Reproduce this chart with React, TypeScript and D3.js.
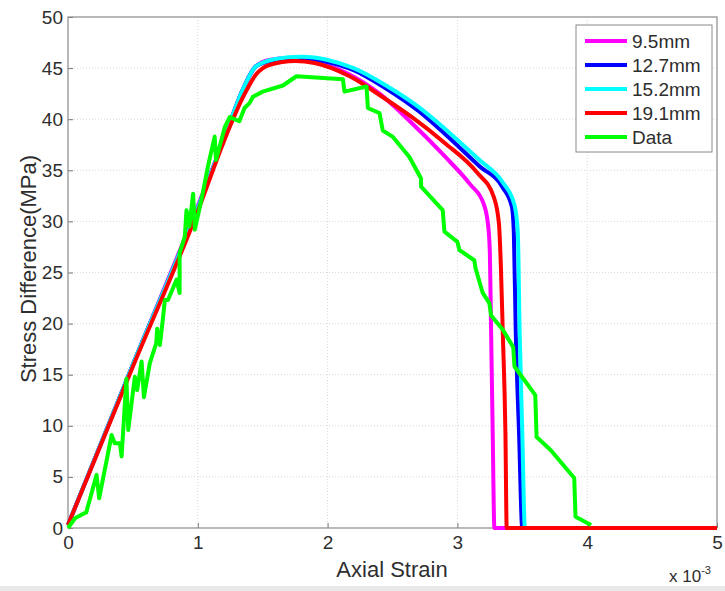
import React, { useEffect, useRef } from 'react';
import * as d3 from 'd3';

// strain in units of 1e-3, stress in MPa
const mm95: [number, number][] = [
  [0, 0.3], [0.5, 16], [1, 31.5], [1.2, 38], [1.35, 43], [1.45, 45.2], [1.55, 45.8], [1.7, 46.0],
  [1.9, 45.6], [2.15, 44.5], [2.4, 42.5], [2.65, 39.6], [2.9, 36.4], [3.1, 33.6], [3.2, 31.8],
  [3.235, 29.8], [3.25, 27], [3.26, 19], [3.272, 9.3], [3.285, 0], [5, 0],
];
const mm127: [number, number][] = [
  [0, 0.3], [0.5, 16], [1, 31.3], [1.2, 38], [1.35, 43], [1.45, 45.2], [1.6, 45.8], [1.8, 46.0],
  [2, 45.6], [2.2, 44.8], [2.45, 43], [2.7, 40.8], [2.9, 38.6], [3.17, 35.4], [3.35, 33.3],
  [3.42, 31.4], [3.435, 28.8], [3.45, 19], [3.475, 9.3], [3.5, 0], [5, 0],
];
const mm152: [number, number][] = [
  [0, 0.3], [0.5, 16], [1, 31.3], [1.2, 38], [1.35, 43], [1.45, 45.2], [1.6, 45.9], [1.8, 46.1],
  [2, 45.8], [2.2, 45], [2.45, 43.3], [2.7, 41.2], [2.9, 39.1], [3.17, 36], [3.35, 33.8],
  [3.44, 31.6], [3.465, 29], [3.48, 19], [3.5, 9.3], [3.52, 0], [5, 0],
];
const mm191: [number, number][] = [
  [0, 0.3], [0.5, 15.8], [1, 31], [1.2, 37.8], [1.35, 42.2], [1.45, 44.4], [1.55, 45.3], [1.75, 45.7],
  [1.9, 45.5], [2.17, 44.2], [2.42, 42.2], [2.65, 40.2], [2.9, 37.7], [3.15, 34.8], [3.28, 32.4],
  [3.32, 29.8], [3.335, 25.6], [3.35, 19], [3.37, 9.3], [3.38, 0], [5, 0],
];
const measured: [number, number][] = [
  [0, 0], [0.054, 0.95], [0.118, 1.4], [0.14, 1.5], [0.22, 5.2], [0.24, 2.9], [0.336, 9.1], [0.36, 8.3],
  [0.4, 8.3], [0.413, 7.0], [0.45, 14.6], [0.464, 9.6], [0.515, 14.8], [0.533, 13.5], [0.567, 16.3],
  [0.585, 12.8], [0.63, 16.1], [0.68, 18.1], [0.687, 19.5], [0.708, 17.9], [0.733, 20.7], [0.746, 22.3],
  [0.77, 22.3], [0.836, 24.3], [0.86, 23.0], [0.86, 26.9], [0.9, 28.5], [0.913, 31.1], [0.935, 29.5],
  [0.964, 32.7], [0.977, 29.2], [1.028, 32.1], [1.08, 35.5], [1.13, 38.3], [1.14, 36.0], [1.21, 39.3],
  [1.246, 40.2], [1.32, 39.8], [1.36, 41.1], [1.4, 41.6], [1.425, 42.2], [1.5, 42.7], [1.656, 43.3],
  [1.76, 44.2], [2.118, 43.9], [2.13, 42.7], [2.3, 43.2], [2.31, 41.1], [2.4, 40.6], [2.425, 38.9],
  [2.5, 38.3], [2.63, 36.3], [2.72, 34.2], [2.72, 33.4], [2.887, 31.1], [2.9, 29.0], [3.0, 28.0],
  [3.015, 27.2], [3.13, 26.2], [3.14, 25.4], [3.195, 23.0], [3.246, 22.0], [3.26, 20.8], [3.35, 19.4],
  [3.43, 17.7], [3.44, 15.8], [3.6, 13.0], [3.61, 8.9], [3.72, 7.6], [3.9, 4.9], [3.91, 1.1], [4.03, 0.3],
];

const names = ['9.5mm', '12.7mm', '15.2mm', '19.1mm', 'Data'];
const colors = ['#ff00ff', '#0000ff', '#00ffff', '#ff0000', '#00ff00'];
const series = [mm95, mm127, mm152, mm191, measured];
const xTicks = [0, 1, 2, 3, 4, 5];
const yTicks = [0, 5, 10, 15, 20, 25, 30, 35, 40, 45, 50];

export default function App() {
  const ref = useRef<SVGSVGElement>(null);

  useEffect(() => {
    const width = 725;
    const height = 591;
    const left = 68, right = 717, top = 17, bottom = 528;
    const font = '"Liberation Sans", Arial, sans-serif';
    const ink = '#2e2e2e';

    const svg = d3.select(ref.current);
    svg.selectAll('*').remove();

    const x = d3.scaleLinear().domain([0, 5]).range([left, right]);
    const y = d3.scaleLinear().domain([0, 50]).range([bottom, top]);

    svg.append('rect').attr('width', width).attr('height', height).attr('fill', '#fff');
    svg.append('rect').attr('x', 0).attr('y', 586).attr('width', width).attr('height', 5).attr('fill', '#e8e8e8');

    // grid
    const grid = svg.append('g').attr('stroke', '#d8d8d8').attr('stroke-dasharray', '1,2').attr('stroke-width', 1);
    xTicks.slice(1, -1).forEach((t) => {
      grid.append('line').attr('x1', x(t)).attr('x2', x(t)).attr('y1', top).attr('y2', bottom);
    });
    yTicks.slice(1, -1).forEach((t) => {
      grid.append('line').attr('x1', left).attr('x2', right).attr('y1', y(t)).attr('y2', y(t));
    });

    // axes (MATLAB style, ticks inside)
    const xAxis = d3.axisBottom(x).tickValues(xTicks).tickFormat(d3.format('d')).tickSizeInner(-5).tickSizeOuter(0).tickPadding(8);
    const yAxis = d3.axisLeft(y).tickValues(yTicks).tickFormat(d3.format('d')).tickSizeInner(-5).tickSizeOuter(0).tickPadding(5);
    const gx = svg.append('g').attr('transform', `translate(0,${bottom})`).call(xAxis);
    const gy = svg.append('g').attr('transform', `translate(${left},0)`).call(yAxis);
    [gx, gy].forEach((g) => {
      g.select('.domain').remove();
      g.selectAll('line').attr('stroke', '#777');
      g.selectAll('text').attr('font-family', font).attr('font-size', 19).attr('fill', ink);
    });
    svg.append('rect').attr('x', left).attr('y', top).attr('width', right - left).attr('height', bottom - top)
      .attr('fill', 'none').attr('stroke', '#8a8a8a').attr('stroke-width', 1.2);

    // curves: smooth model curves, raw measured data
    const smooth = d3.line<[number, number]>().x((d) => x(d[0])).y((d) => y(d[1])).curve(d3.curveMonotoneX);
    const raw = d3.line<[number, number]>().x((d) => x(d[0])).y((d) => y(d[1]));
    series.forEach((s, i) => {
      svg.append('path').datum(s).attr('d', i < 4 ? smooth : raw).attr('fill', 'none')
        .attr('stroke', colors[i]).attr('stroke-width', 4).attr('stroke-linejoin', 'round');
    });

    // labels
    svg.append('text').attr('x', 392).attr('y', 577).attr('text-anchor', 'middle')
      .attr('font-family', font).attr('font-size', 22).attr('fill', ink).text('Axial Strain');
    const ex = svg.append('text').attr('x', 669).attr('y', 582)
      .attr('font-family', font).attr('font-size', 17).attr('fill', ink);
    ex.append('tspan').text('x 10');
    ex.append('tspan').attr('dy', -8).attr('font-size', 11).text('-3');
    svg.append('text').attr('transform', `translate(36,269) rotate(-90)`)
      .attr('text-anchor', 'middle').attr('font-family', font).attr('font-size', 22).attr('fill', ink)
      .text('Stress Difference(MPa)');

    // legend
    const lg = svg.append('g');
    lg.append('rect').attr('x', 576).attr('y', 25).attr('width', 136).attr('height', 127)
      .attr('fill', '#fff').attr('stroke', '#8a8a8a').attr('stroke-width', 1);
    names.forEach((n, i) => {
      const yy = 41 + i * 24;
      lg.append('line').attr('x1', 585).attr('x2', 627).attr('y1', yy).attr('y2', yy)
        .attr('stroke', colors[i]).attr('stroke-width', 4);
      lg.append('text').attr('x', 632).attr('y', yy + 7).attr('font-family', font).attr('font-size', 19)
        .attr('fill', ink).text(n);
    });
  }, []);

  return (
    <svg ref={ref} width={725} height={591} style={{ position: 'absolute', left: 0, top: 0 }} />
  );
}
